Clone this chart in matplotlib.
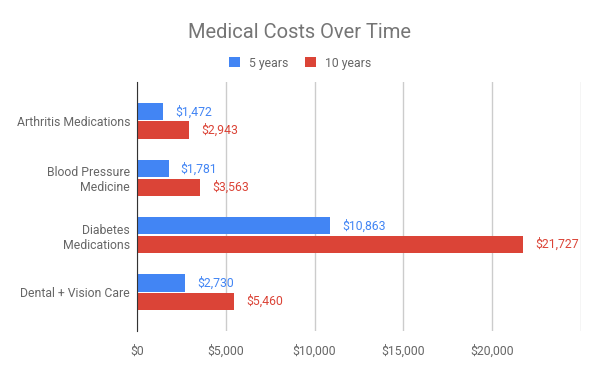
import matplotlib
matplotlib.use("Agg")
import matplotlib.pyplot as plt
import numpy as np

categories = ["Arthritis Medications", "Blood Pressure\nMedicine", "Diabetes\nMedications", "Dental + Vision Care"]
five_years = [1472, 1781, 10863, 2730]
ten_years = [2943, 3563, 21727, 5460]
series_names = ["5 years", "10 years"]
xticks = [0, 5000, 10000, 15000, 20000, 25000]
xtick_labels = ["$0", "$5,000", "$10,000", "$15,000", "$20,000", ""]

BLUE = "#4285F4"
RED = "#DB4437"
GRAY = "#666666"

plt.rcParams['font.family'] = ['Roboto', 'DejaVu Sans']

fig = plt.figure(figsize=(6, 3.71), dpi=100)
ax = fig.add_axes([137/600, 1 - 331/371, (581-137)/600, (331-82)/371])

y = np.arange(len(categories))
h = 0.3
gap = 0.02
ax.barh(y - h/2 - gap/2, five_years, height=h, color=BLUE, label=series_names[0], zorder=3)
ax.barh(y + h/2 + gap/2, ten_years, height=h, color=RED, label=series_names[1], zorder=3)

for yi, v in zip(y, five_years):
    ax.annotate(f"${v:,}", (v, yi - h/2 - gap/2), xytext=(12, 0), textcoords="offset pixels",
                va="center", ha="left", color=BLUE, fontsize=8.8)
for yi, v in zip(y, ten_years):
    ax.annotate(f"${v:,}", (v, yi + h/2 + gap/2), xytext=(12, 0), textcoords="offset pixels",
                va="center", ha="left", color=RED, fontsize=8.8)

ax.set_xlim(0, 25000)
ax.set_ylim(3.68, -0.68)
ax.set_xticks(xticks)
ax.set_xticklabels(xtick_labels)
ax.set_yticks(y)
ax.set_yticklabels(categories, ha="right", multialignment="right")
ax.tick_params(axis="both", length=0, labelsize=8.8, labelcolor=GRAY)
ax.tick_params(axis="x", pad=10)
ax.tick_params(axis="y", pad=5)
ax.grid(axis="x", color="#cccccc", linewidth=1, zorder=0)
for s in ["top", "right", "bottom"]:
    ax.spines[s].set_visible(False)
ax.spines["left"].set_color("#333333")
ax.spines["left"].set_zorder(4)

fig.text(0.5, 1 - 32/371, "Medical Costs Over Time", ha="center", va="center", fontsize=14.5, color="#757575")
leg = fig.legend(loc="center", bbox_to_anchor=(0.5, 1 - 63/371), ncol=2, frameon=False,
                 fontsize=8.8, handlelength=0.9, handleheight=0.9, columnspacing=1.4, handletextpad=0.7)
for t in leg.get_texts():
    t.set_color(GRAY)

fig.savefig("out.png", dpi=100)
